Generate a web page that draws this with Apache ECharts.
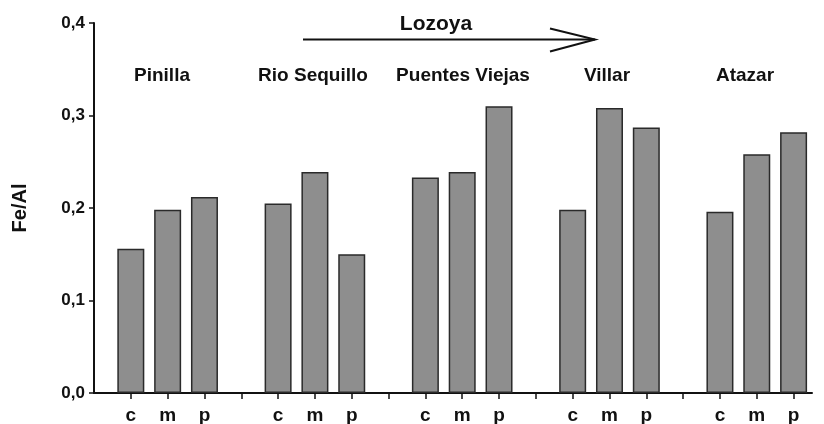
<!DOCTYPE html>
<html>
<head>
<meta charset="utf-8">
<script src="https://cdn.jsdelivr.net/npm/echarts@6/dist/echarts.min.js"></script>
<style>html,body{margin:0;padding:0;background:#fff}#c{width:824px;height:424px}</style>
</head>
<body>
<div id="c"></div>
<script>
// ---- data ----
var sites = ['Pinilla', 'Rio Sequillo', 'Puentes Viejas', 'Villar', 'Atazar'];
var sampleTypes = ['c', 'm', 'p'];
var valuesC = [0.156, 0.205, 0.233, 0.198, 0.196];
var valuesM = [0.198, 0.239, 0.239, 0.308, 0.258];
var valuesP = [0.212, 0.150, 0.310, 0.287, 0.282];
var yTicks = [0.0, 0.1, 0.2, 0.3, 0.4];
var yAxisName = 'Fe/Al';
var riverName = 'Lozoya';

// ---- build ----
var seriesValues = [valuesC, valuesM, valuesP];
var slot = sampleTypes.length + 1; // one empty slot between groups
var barData = [];
var tickPos = [];
var tickLabel = {};
sites.forEach(function (s, g) {
  sampleTypes.forEach(function (t, i) {
    var pos = g * slot + i + 1;
    barData.push([pos, seriesValues[i][g]]);
    tickPos.push(pos);
    tickLabel[pos] = t;
  });
  if (g < sites.length - 1) { tickPos.push(g * slot + slot); tickLabel[g * slot + slot] = ''; }
});
tickPos.sort(function (a, b) { return a - b; });

var chart = echarts.init(document.getElementById('c'), null, {renderer: 'canvas'});
var FONT = '"Liberation Sans", Arial, sans-serif';
var siteLabelX = [162, 313, 463, 607, 745];

var option = {
  backgroundColor: '#ffffff',
  animation: false,
  grid: {left: 94, right: 12, top: 23, bottom: 31, containLabel: false, outerBoundsMode: 'none'},
  xAxis: {
    type: 'value',
    min: 0,
    max: sites.length * slot - 0.5,
    splitLine: {show: false},
    axisLine: {show: true, onZero: false, lineStyle: {color: '#111', width: 2}},
    axisTick: {show: true, customValues: tickPos, length: 6, lineStyle: {color: '#111', width: 1.5}},
    axisLabel: {
      customValues: tickPos,
      formatter: function (v) { return tickLabel[v] || ''; },
      fontFamily: FONT, fontWeight: 'bold', fontSize: 19, color: '#111', margin: 13
    }
  },
  yAxis: {
    type: 'value',
    min: yTicks[0],
    max: yTicks[yTicks.length - 1],
    interval: 0.1,
    name: yAxisName,
    nameLocation: 'middle',
    nameRotate: 90,
    nameGap: 64,
    nameTextStyle: {fontFamily: FONT, fontWeight: 'bold', fontSize: 20, color: '#111'},
    splitLine: {show: false},
    axisLine: {show: true, lineStyle: {color: '#111', width: 2}},
    axisTick: {show: true, length: 5, lineStyle: {color: '#111', width: 1.5}},
    axisLabel: {
      formatter: function (v) { return v.toFixed(1).replace('.', ','); },
      fontFamily: FONT, fontWeight: 'bold', fontSize: 17, color: '#111', margin: 9
    }
  },
  series: [{
    type: 'bar',
    data: barData,
    barWidth: 27,
    itemStyle: {color: '#8e8e8e', borderColor: '#2a2a2a', borderWidth: 1.5}
  }],
  graphic: sites.map(function (s, g) {
    return {
      type: 'text', x: siteLabelX[g], y: 76,
      style: {text: s, fill: '#111', font: 'bold 19px ' + FONT, textAlign: 'center', textVerticalAlign: 'middle'}
    };
  }).concat([
    {type: 'text', x: 436, y: 24, style: {text: riverName, fill: '#111', font: 'bold 21px ' + FONT, textAlign: 'center', textVerticalAlign: 'middle'}},
    {type: 'line', shape: {x1: 303, y1: 39.5, x2: 595, y2: 39.5}, style: {stroke: '#111', lineWidth: 2}},
    {type: 'polyline', shape: {points: [[550, 28.5], [595, 39.5], [550, 51.5]]}, style: {stroke: '#111', lineWidth: 2, fill: null}}
  ])
};
chart.setOption(option);
</script>
</body>
</html>
